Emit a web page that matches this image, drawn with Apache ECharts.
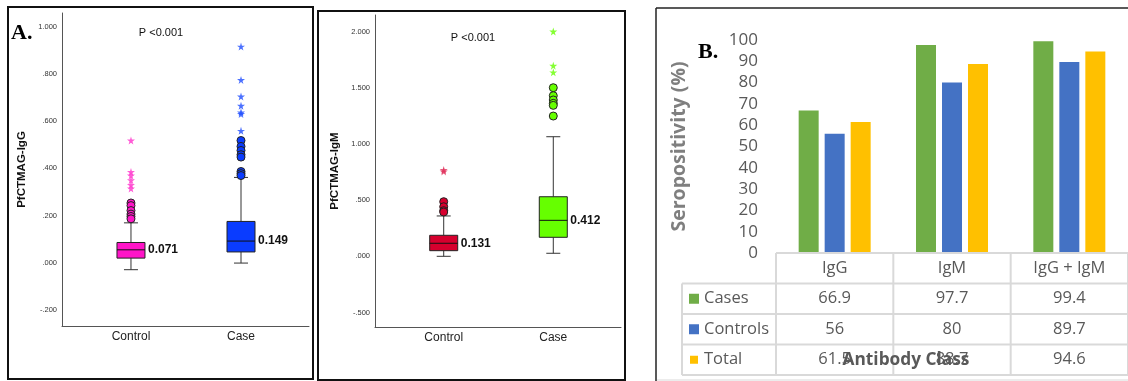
<!DOCTYPE html>
<html><head><meta charset="utf-8">
<script src="https://cdn.jsdelivr.net/npm/echarts@6/dist/echarts.min.js"></script>
<style>html,body{margin:0;padding:0;background:#fff}#c{width:1128px;height:381px}</style>
</head><body><div id="c"></div>
<script>
// ---------- DATA ----------
const groups = ['Control', 'Case'];
// box stats: [min whisker, Q1, median, Q3, max whisker]
const iggBox = [[-0.028, 0.021, 0.056, 0.087, 0.170], [0.0, 0.047, 0.093, 0.176, 0.362]];
const iggLabels = ['0.071', '0.149'];
const iggCircles = [[0.254, 0.243, 0.222, 0.207, 0.197, 0.187], [0.518, 0.493, 0.476, 0.458, 0.448, 0.387, 0.378, 0.370]];
const iggStars = [[0.518, 0.385, 0.370, 0.350, 0.330, 0.315], [0.915, 0.774, 0.704, 0.665, 0.637, 0.630, 0.559]];
const igmBox = [[0.0, 0.050, 0.116, 0.187, 0.359], [0.027, 0.169, 0.320, 0.530, 1.064]];
const igmLabels = ['0.131', '0.412'];
const igmCircles = [[0.486, 0.441, 0.406, 0.394], [1.500, 1.429, 1.391, 1.361, 1.343, 1.248]];
const igmStars = [[0.768, 0.755], [2.000, 1.696, 1.637]];
const iggTicks = [-0.2, 0, 0.2, 0.4, 0.6, 0.8, 1.0];
const igmTicks = [-0.5, 0, 0.5, 1.0, 1.5, 2.0];
const pText = 'P <0.001';

const classes = ['IgG', 'IgM', 'IgG + IgM'];
const seriesNames = ['Cases', 'Controls', 'Total'];
const cases = [66.9, 97.7, 99.4];
const controls = [56, 80, 89.7];
const totals = [61.5, 88.7, 94.6];

// ---------- STYLES ----------
const iggColors = ['#ff14c8', '#0a3cff'];
const iggStarColors = ['#ff33cc', '#1f4dff'];
const igmColors = ['#d6002e', '#66ff00'];
const igmStarColors = ['#e0305a', '#66ff00'];
const barColors = ['#70ad47', '#4472c4', '#ffc000'];
const starPath = 'path://M50,0 L61,35 L98,35 L68,57 L79,91 L50,70 L21,91 L32,57 L2,35 L39,35 Z';
const SANS = '"Liberation Sans", Arial, sans-serif';
const OPEN = '"Open Sans", "Liberation Sans", sans-serif';

function fmtTick(v) {
  let s = Math.abs(v).toFixed(3).replace(/^0/, '');
  return (v < 0 ? '-' : '') + s;
}

function boxRender(colors, labels) {
  return function (params, api) {
    const x = api.value(0);
    const pMin = api.coord([x, api.value(1)]);
    const pQ1 = api.coord([x, api.value(2)]);
    const pMed = api.coord([x, api.value(3)]);
    const pQ3 = api.coord([x, api.value(4)]);
    const pMax = api.coord([x, api.value(5)]);
    const w = 28, cap = 14, cx = pMed[0];
    const ls = { stroke: '#333', lineWidth: 1 };
    return {
      type: 'group', children: [
        { type: 'line', shape: { x1: cx, y1: pMax[1], x2: cx, y2: pQ3[1] }, style: ls },
        { type: 'line', shape: { x1: cx, y1: pQ1[1], x2: cx, y2: pMin[1] }, style: ls },
        { type: 'line', shape: { x1: cx - cap / 2, y1: pMax[1], x2: cx + cap / 2, y2: pMax[1] }, style: ls },
        { type: 'line', shape: { x1: cx - cap / 2, y1: pMin[1], x2: cx + cap / 2, y2: pMin[1] }, style: ls },
        { type: 'rect', shape: { x: cx - w / 2, y: pQ3[1], width: w, height: pQ1[1] - pQ3[1] },
          style: { fill: colors[params.dataIndex], stroke: '#222', lineWidth: 1 } },
        { type: 'line', shape: { x1: cx - w / 2, y1: pMed[1], x2: cx + w / 2, y2: pMed[1] }, style: { stroke: '#111', lineWidth: 1 } },
        { type: 'text', style: { text: labels[params.dataIndex], x: cx + w / 2 + 3, y: pMed[1],
          verticalAlign: 'middle', align: 'left', font: 'bold 12px ' + SANS, fill: '#111' } }
      ]
    };
  };
}

function pointData(arr, colors) {
  const out = [];
  arr.forEach((vals, g) => vals.forEach(v => out.push({ value: [g, v], itemStyle: { color: colors[g] } })));
  return out;
}

function boxXAxis(gridIndex) {
  return {
    type: 'value', gridIndex, min: -0.627, max: 1.618,
    axisLine: { show: true, onZero: false, lineStyle: { color: '#555', width: 1 } },
    axisTick: { show: false }, splitLine: { show: false },
    axisLabel: { customValues: [0, 1], formatter: v => groups[Math.round(v)],
      fontSize: 12, fontFamily: SANS, color: '#222', margin: 5 }
  };
}
function boxYAxis(gridIndex, min, max, ticks, name) {
  return {
    type: 'value', gridIndex, min, max,
    axisLine: { show: true, onZero: false, lineStyle: { color: '#555', width: 1 } },
    axisTick: { show: false }, splitLine: { show: false },
    axisLabel: { customValues: ticks, formatter: fmtTick, fontSize: 7.5, fontFamily: SANS, color: '#333', margin: 5 },
    name, nameLocation: 'middle', nameGap: 34, nameRotate: 90,
    nameTextStyle: { fontSize: 11.5, fontWeight: 'bold', fontFamily: SANS, color: '#111' }
  };
}

const chart = echarts.init(document.getElementById('c'), null, { renderer: 'canvas' });

const option = {
  animation: false,
  backgroundColor: '#fff',
  grid: [
    { left: 62, top: 13, width: 247, height: 313 },
    { left: 375, top: 15, width: 246, height: 312 },
    { left: 776, top: 40, width: 354, height: 213 }
  ],
  xAxis: [
    boxXAxis(0), boxXAxis(1),
    { type: 'category', gridIndex: 2, data: classes, axisLine: { show: false }, axisTick: { show: false },
      axisLabel: { show: false }, splitLine: { show: false } }
  ],
  yAxis: [
    boxYAxis(0, -0.266, 1.057, iggTicks, 'PfCTMAG-IgG'),
    boxYAxis(1, -0.629, 2.147, igmTicks, 'PfCTMAG-IgM'),
    { type: 'value', gridIndex: 2, min: 0, max: 100, interval: 10,
      axisLine: { show: false }, axisTick: { show: false }, splitLine: { show: false },
      axisLabel: { fontSize: 17, fontFamily: OPEN, color: '#595959', margin: 18 },
      name: 'Seropositivity (%)', nameLocation: 'middle', nameGap: 87, nameRotate: 90,
      nameTextStyle: { fontSize: 19.5, fontWeight: 'bold', fontFamily: OPEN, color: '#7f7f7f' } }
  ],
  series: [
    { type: 'custom', xAxisIndex: 0, yAxisIndex: 0, renderItem: boxRender(iggColors, iggLabels),
      encode: { x: 0, y: [1, 2, 3, 4, 5] }, data: iggBox.map((b, i) => [i].concat(b)), z: 2 },
    { type: 'scatter', xAxisIndex: 0, yAxisIndex: 0, symbol: 'circle', symbolSize: 8,
      itemStyle: { borderColor: '#222', borderWidth: 1, opacity: 1 }, data: pointData(iggCircles, iggColors), z: 3 },
    { type: 'scatter', xAxisIndex: 0, yAxisIndex: 0, symbol: starPath, symbolSize: 8,
      data: pointData(iggStars, iggStarColors), z: 3 },
    { type: 'custom', xAxisIndex: 1, yAxisIndex: 1, renderItem: boxRender(igmColors, igmLabels),
      encode: { x: 0, y: [1, 2, 3, 4, 5] }, data: igmBox.map((b, i) => [i].concat(b)), z: 2 },
    { type: 'scatter', xAxisIndex: 1, yAxisIndex: 1, symbol: 'circle', symbolSize: 8,
      itemStyle: { borderColor: '#222', borderWidth: 1, opacity: 1 }, data: pointData(igmCircles, igmColors), z: 3 },
    { type: 'scatter', xAxisIndex: 1, yAxisIndex: 1, symbol: starPath, symbolSize: 8,
      data: pointData(igmStars, igmStarColors), z: 3 },
    { type: 'bar', name: seriesNames[0], xAxisIndex: 2, yAxisIndex: 2, data: cases, barWidth: 20, barGap: '30%',
      itemStyle: { color: barColors[0] } },
    { type: 'bar', name: seriesNames[1], xAxisIndex: 2, yAxisIndex: 2, data: controls, barWidth: 20, barGap: '30%',
      itemStyle: { color: barColors[1] } },
    { type: 'bar', name: seriesNames[2], xAxisIndex: 2, yAxisIndex: 2, data: totals, barWidth: 20, barGap: '30%',
      itemStyle: { color: barColors[2] } }
  ]
};
chart.setOption(option);

// ---------- frames, annotations and data table ----------
const g = [];
g.push({ type: 'rect', shape: { x: 8, y: 7, width: 305, height: 372 }, style: { fill: 'none', stroke: '#111', lineWidth: 2 }, z: 10 });
g.push({ type: 'rect', shape: { x: 318, y: 11, width: 307, height: 369 }, style: { fill: 'none', stroke: '#111', lineWidth: 2 }, z: 10 });
g.push({ type: 'line', shape: { x1: 656, y1: 8, x2: 656, y2: 381 }, style: { stroke: '#222', lineWidth: 1.5 }, z: 10 });
g.push({ type: 'line', shape: { x1: 656, y1: 8, x2: 1128, y2: 8 }, style: { stroke: '#222', lineWidth: 1.5 }, z: 10 });
g.push({ type: 'line', shape: { x1: 657, y1: 380, x2: 1128, y2: 380 }, style: { stroke: '#e6e6e6', lineWidth: 1.5 }, z: 10 });

g.push({ type: 'text', style: { text: 'A.', x: 11, y: 33, verticalAlign: 'middle', font: 'bold 22px "Liberation Serif", serif', fill: '#000' }, z: 10 });
g.push({ type: 'text', style: { text: 'B.', x: 698, y: 52, verticalAlign: 'middle', font: 'bold 22px "Liberation Serif", serif', fill: '#000' }, z: 10 });
g.push({ type: 'text', style: { text: pText, x: 161, y: 33, align: 'center', verticalAlign: 'middle', font: '11px ' + SANS, fill: '#111' }, z: 10 });
g.push({ type: 'text', style: { text: pText, x: 473, y: 38, align: 'center', verticalAlign: 'middle', font: '11px ' + SANS, fill: '#111' }, z: 10 });

// table built from axis positions
const c0 = chart.convertToPixel({ xAxisIndex: 2 }, classes[0]);
const c1 = chart.convertToPixel({ xAxisIndex: 2 }, classes[1]);
const band = c1 - c0;
const centers = classes.map(c => chart.convertToPixel({ xAxisIndex: 2 }, c));
const bounds = [c0 - band / 2].concat(centers.map(c => c + band / 2));
const rowY = [253, 283.5, 314, 344.5, 375];
const tableLeft = 682;
const lineCol = '#d9d9d9';
const rightEdge = 1130;
g.push({ type: 'line', shape: { x1: bounds[0], y1: rowY[0], x2: rightEdge, y2: rowY[0] }, style: { stroke: lineCol, lineWidth: 2 }, z: 5 });
for (let r = 1; r < rowY.length; r++) {
  g.push({ type: 'line', shape: { x1: tableLeft, y1: rowY[r], x2: rightEdge, y2: rowY[r] }, style: { stroke: lineCol, lineWidth: 2 }, z: 5 });
}
g.push({ type: 'line', shape: { x1: tableLeft, y1: rowY[1], x2: tableLeft, y2: rowY[4] }, style: { stroke: lineCol, lineWidth: 2 }, z: 5 });
bounds.forEach(b => g.push({ type: 'line', shape: { x1: b, y1: rowY[0], x2: b, y2: rowY[4] }, style: { stroke: lineCol, lineWidth: 2 }, z: 5 }));

const txt = '#595959';
classes.forEach((c, i) => g.push({ type: 'text', style: { text: c, x: centers[i], y: (rowY[0] + rowY[1]) / 2,
  align: 'center', verticalAlign: 'middle', font: '16.5px ' + OPEN, fill: txt }, z: 6 }));
const rows = [cases, controls, totals];
const keySize = [10, 10, 8];
rows.forEach((vals, r) => {
  const cy = (rowY[r + 1] + rowY[r + 2]) / 2;
  g.push({ type: 'rect', shape: { x: 689 + (10 - keySize[r]) / 2, y: cy - keySize[r] / 2, width: keySize[r], height: keySize[r] },
    style: { fill: barColors[r] }, z: 6 });
  g.push({ type: 'text', style: { text: seriesNames[r], x: 704, y: cy, align: 'left', verticalAlign: 'middle',
    font: '16.5px ' + OPEN, fill: txt }, z: 6 });
  vals.forEach((v, i) => g.push({ type: 'text', style: { text: String(v), x: centers[i], y: cy,
    align: 'center', verticalAlign: 'middle', font: '16.5px ' + OPEN, fill: txt }, z: 6 }));
});
g.push({ type: 'text', style: { text: 'Antibody Class', x: (tableLeft + rightEdge) / 2, y: 360, align: 'center', verticalAlign: 'middle',
  font: 'bold 17.3px ' + OPEN, fill: txt }, z: 7 });

chart.setOption({ graphic: { elements: g } });
</script>
</body></html>
